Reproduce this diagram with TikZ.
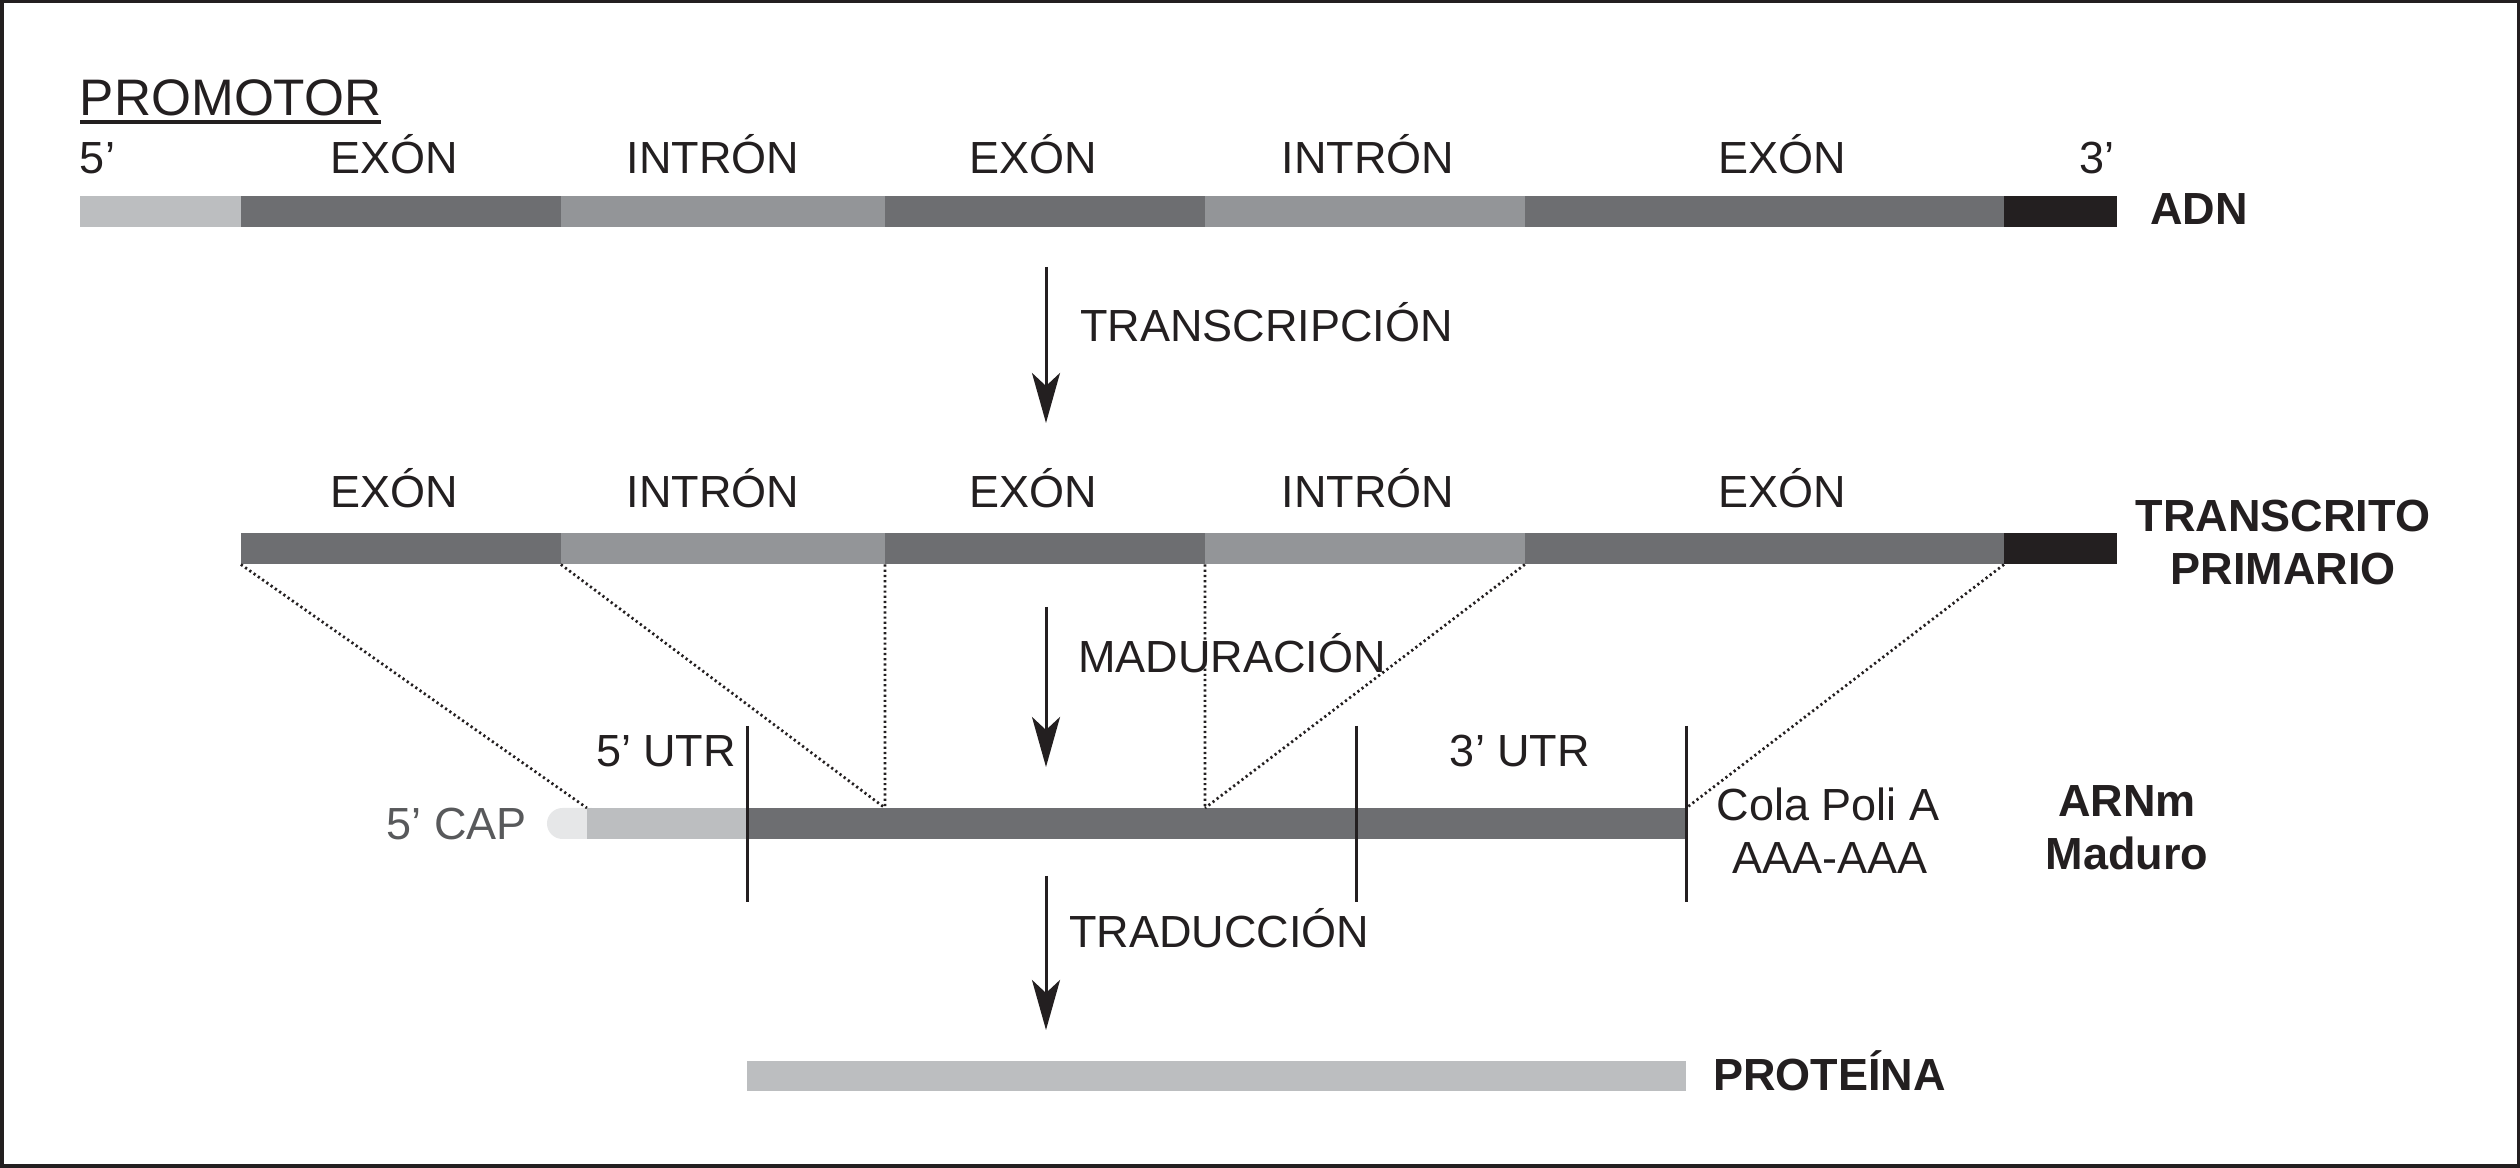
\documentclass[tikz,border=0pt]{standalone}
\usepackage{fontspec}
\setmainfont{Liberation Sans}
\usetikzlibrary{arrows.meta,shapes.misc}
\definecolor{cpro}{HTML}{BCBEC0}
\definecolor{cex}{HTML}{6D6E71}
\definecolor{cin}{HTML}{939598}
\definecolor{cend}{HTML}{231F20}
\definecolor{ccap}{HTML}{E6E7E8}
\definecolor{ctxt}{HTML}{231F20}
\definecolor{ccaptxt}{HTML}{58595B}
\begin{document}
\begin{tikzpicture}[x=0.01cm,y=-0.01cm,
  seg/.style={rectangle,inner sep=0pt,outer sep=0pt,minimum height=0.31cm,draw=none},
  lbl/.style={inner sep=0pt,outer sep=0pt,font=\fontsize{12.8pt}{15pt}\selectfont,text=ctxt},
  blbl/.style={inner sep=0pt,outer sep=0pt,font=\fontsize{12.8pt}{15pt}\selectfont\bfseries,text=ctxt},
  flowarrow/.style={line width=0.03cm,draw=ctxt,-{Stealth[length=0.5cm,width=0.28cm,inset=0.13cm]}},
  dotline/.style={line width=0.027cm,dash pattern=on 0.022cm off 0.03cm,draw=ctxt},
  utrline/.style={line width=0.03cm,draw=ctxt}
]
\useasboundingbox (0,0) rectangle (2520,1168);
\draw[line width=0.035cm,draw=ctxt] (1.75,1.75) rectangle (2518.25,1166.25);

% ---- ADN ----
\node[inner sep=0pt,outer sep=0pt,font=\fontsize{14.6pt}{17pt}\selectfont,text=ctxt,anchor=base west] (promo) at (80,116) {PROMOTOR};
\draw[line width=0.035cm,draw=ctxt] ([yshift=-0.06cm]promo.base west) -- ([yshift=-0.06cm]promo.base east);
\node[lbl,anchor=base west] (l5) at (80,174) {5’};
\node[lbl,anchor=base] (la1) at (394,174) {EXÓN};
\node[lbl,anchor=base] (la2) at (713,174) {INTRÓN};
\node[lbl,anchor=base] (la3) at (1033,174) {EXÓN};
\node[lbl,anchor=base] (la4) at (1368,174) {INTRÓN};
\node[lbl,anchor=base] (la5) at (1782,174) {EXÓN};
\node[lbl,anchor=base] (l3) at (2097,174) {3’};

\node[seg,fill=cpro,minimum width=1.61cm] (d0) at (160.5,211.5) {};
\node[seg,fill=cex,minimum width=3.20cm] (d1) at (401,211.5) {};
\node[seg,fill=cin,minimum width=3.24cm] (d2) at (723,211.5) {};
\node[seg,fill=cex,minimum width=3.20cm] (d3) at (1045,211.5) {};
\node[seg,fill=cin,minimum width=3.20cm] (d4) at (1365,211.5) {};
\node[seg,fill=cex,minimum width=4.79cm] (d5) at (1764.5,211.5) {};
\node[seg,fill=cend,minimum width=1.13cm] (d6) at (2060.5,211.5) {};
\node[blbl,anchor=base west] (adn) at (2150,225) {ADN};

% ---- arrow 1 ----
\coordinate (a1s) at (1046,267);
\coordinate (a1e) at (1046,423);
\draw[flowarrow] (a1s) -- (a1e);
\node[lbl,anchor=base west] (transc) at (1080,342) {TRANSCRIPCIÓN};

% ---- transcrito primario ----
\node[lbl,anchor=base] (lb1) at (394,508) {EXÓN};
\node[lbl,anchor=base] (lb2) at (713,508) {INTRÓN};
\node[lbl,anchor=base] (lb3) at (1033,508) {EXÓN};
\node[lbl,anchor=base] (lb4) at (1368,508) {INTRÓN};
\node[lbl,anchor=base] (lb5) at (1782,508) {EXÓN};

\node[seg,fill=cex,minimum width=3.20cm] (t1) at (401,549) {};
\node[seg,fill=cin,minimum width=3.24cm] (t2) at (723,549) {};
\node[seg,fill=cex,minimum width=3.20cm] (t3) at (1045,549) {};
\node[seg,fill=cin,minimum width=3.20cm] (t4) at (1365,549) {};
\node[seg,fill=cex,minimum width=4.79cm] (t5) at (1764.5,549) {};
\node[seg,fill=cend,minimum width=1.13cm] (t6) at (2060.5,549) {};
\node[blbl,anchor=base] (tp1) at (2283,532) {TRANSCRITO};
\node[blbl,anchor=base] (tp2) at (2283,585) {PRIMARIO};

% ---- arrow 2 ----
\coordinate (a2s) at (1046,607);
\coordinate (a2e) at (1046,767);
\draw[flowarrow] (a2s) -- (a2e);
\node[lbl,anchor=base west] (madur) at (1078,673) {MADURACIÓN};

% ---- ARNm maduro ----
\node[rounded rectangle,rounded rectangle right arc=none,fill=ccap,inner sep=0pt,outer sep=0pt,minimum width=0.45cm,minimum height=0.31cm,anchor=east] (cap) at (592,823.5) {};
\node[seg,fill=cpro,minimum width=1.60cm] (utr5) at (667,823.5) {};
\node[seg,fill=cex,minimum width=9.39cm] (cds) at (1216.5,823.5) {};
\coordinate (m2) at (885,808);
\coordinate (m3) at (1205,808);

\draw[dotline] (t1.south west) -- (utr5.north west);
\draw[dotline] (t2.south west) -- (m2);
\draw[dotline] (t3.south west) -- (m2);
\draw[dotline] (t4.south west) -- (m3);
\draw[dotline] (t5.south west) -- (m3);
\draw[dotline] (t6.south west) -- (cds.north east);

\coordinate (v1a) at (747,726);  \coordinate (v1b) at (747,902);
\coordinate (v2a) at (1356,726); \coordinate (v2b) at (1356,902);
\coordinate (v3a) at (1686,726); \coordinate (v3b) at (1686,902);
\draw[utrline] (v1a) -- (v1b);
\draw[utrline] (v2a) -- (v2b);
\draw[utrline] (v3a) -- (v3b);

\node[lbl,anchor=base west] (utr5l) at (596,767) {5’ UTR};
\node[lbl,anchor=base] (utr3l) at (1520,767) {3’ UTR};
\node[lbl,anchor=base east,text=ccaptxt] (capl) at (527,840) {5’ CAP};
\node[lbl,anchor=base] (cola1) at (1828,821) {Cola Poli A};
\node[lbl,anchor=base] (cola2) at (1830,874) {AAA-AAA};
\node[blbl,anchor=base] (arn1) at (2127,817) {ARNm};
\node[blbl,anchor=base] (arn2) at (2127,870) {Maduro};

% ---- arrow 3 ----
\coordinate (a3s) at (1046,876);
\coordinate (a3e) at (1046,1030);
\draw[flowarrow] (a3s) -- (a3e);
\node[lbl,anchor=base west] (trad) at (1069,948) {TRADUCCIÓN};

% ---- proteina ----
\node[seg,fill=cpro,minimum width=9.39cm,minimum height=0.30cm] (prot) at (1216.5,1076) {};
\node[blbl,anchor=base west] (protl) at (1713,1091) {PROTEÍNA};
\end{tikzpicture}
\end{document}
